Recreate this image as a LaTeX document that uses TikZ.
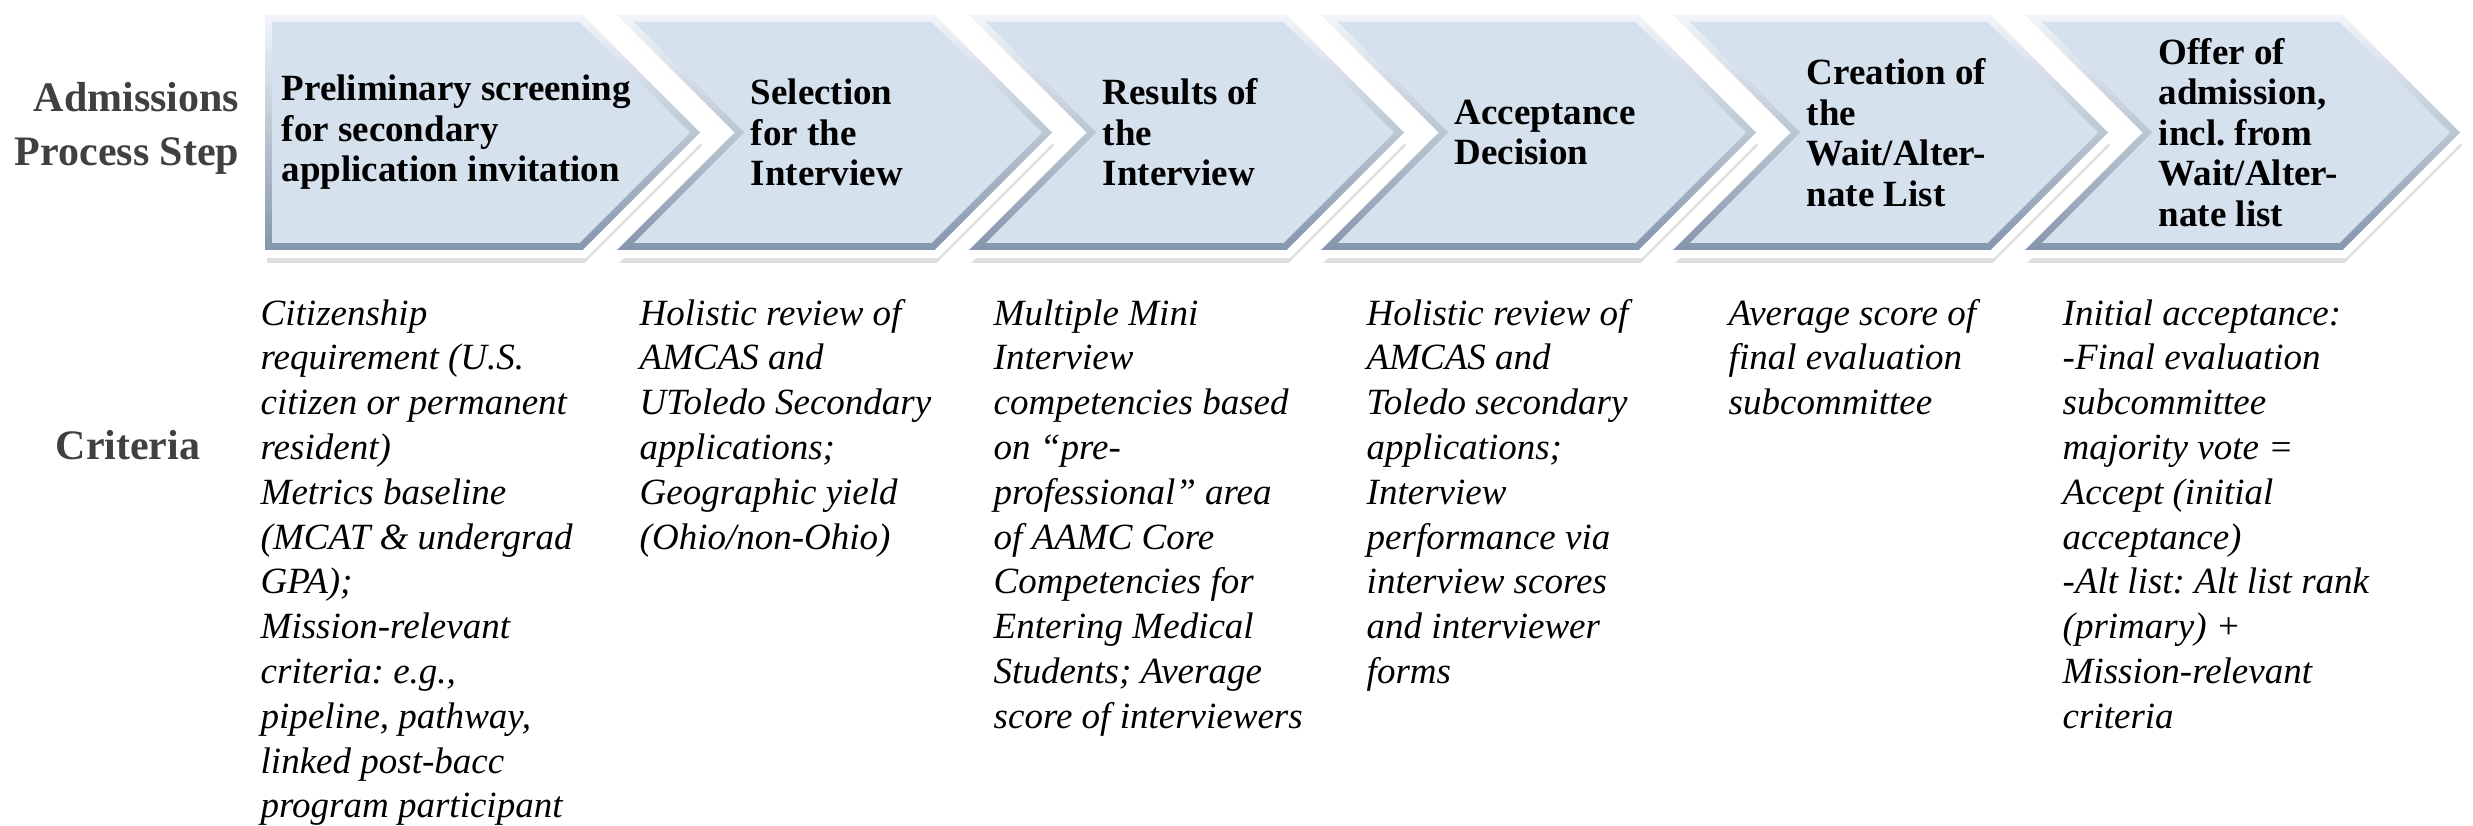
\documentclass[tikz,border=0pt]{standalone}
\usepackage{fontspec}
\setmainfont{Liberation Serif}
\usetikzlibrary{shadows}
\frenchspacing

\definecolor{stepface}{RGB}{214,225,238}
\definecolor{steptop}{RGB}{242,246,251}
\definecolor{stepbottom}{RGB}{132,150,172}
\definecolor{labelgray}{RGB}{64,64,64}

\tikzset{
  stepframe/.style={drop shadow={shadow xshift=0.2mm, shadow yshift=-1.3mm, opacity=0.18, fill=black!70},
    preaction={draw=white, line width=1.6mm, line join=miter},
    top color=steptop, bottom color=stepbottom},
  steplabel/.style={anchor=west, align=left, inner sep=0pt, font=\fontsize{10.53pt}{11.52pt}\selectfont\bfseries},
  crit/.style={anchor=north west, align=left, inner sep=0pt, font=\fontsize{10.53pt}{12.75pt}\selectfont\itshape},
  sidelabel/.style={align=right, inner sep=0pt, text=labelgray, font=\fontsize{11.95pt}{15.36pt}\selectfont\bfseries}
}

% first step: arrow without notch
\newcommand{\firststep}[1]{%
  \path[stepframe] (#1,8.10) -- (#1+3.175,8.10) -- (#1+4.35,6.925) -- (#1+3.175,5.75) -- (#1,5.75) -- cycle;
  \fill[stepface] (#1+0.07,8.03) -- (#1+3.146,8.03) -- (#1+4.251,6.925) -- (#1+3.146,5.82) -- (#1+0.07,5.82) -- cycle;}
% following steps: chevron with notch
\newcommand{\nextstep}[1]{%
  \path[stepframe] (#1,8.10) -- (#1+3.175,8.10) -- (#1+4.35,6.925) -- (#1+3.175,5.75) -- (#1,5.75) -- (#1+1.175,6.925) -- cycle;
  \fill[stepface] (#1+0.169,8.03) -- (#1+3.146,8.03) -- (#1+4.251,6.925) -- (#1+3.146,5.82) -- (#1+0.169,5.82) -- (#1+1.274,6.925) -- cycle;}

\begin{document}
\begin{tikzpicture}
\useasboundingbox (0,0) rectangle (24.73,8.25);

% process steps
\firststep{2.65}
\nextstep{6.17}
\nextstep{9.69}
\nextstep{13.21}
\nextstep{16.73}
\nextstep{20.25}

\node[sidelabel, anchor=east] (admstep) at (2.40,6.97) {Admissions\\Process Step};
\node[sidelabel] (criteria) at (1.28,3.80) {Criteria};

\node[steplabel] (step1) at (2.81,6.925) {Preliminary screening\\for secondary\\application invitation};
\node[steplabel] (step2) at (7.50,6.925) {Selection\\for the\\Interview};
\node[steplabel] (step3) at (11.02,6.925) {Results of\\the\\Interview};
\node[steplabel] (step4) at (14.54,6.925) {Acceptance\\Decision};
\node[steplabel] (step5) at (18.06,6.925) {Creation of\\the\\Wait/Alter-\\nate List};
\node[steplabel] (step6) at (21.58,6.925) {Offer of\\admission,\\incl. from\\Wait/Alter-\\nate list};

% criteria per step
\node[crit] (crit1) at (2.60,5.32) {\strut Citizenship\\requirement (U.S.\\citizen or permanent\\resident)\\Metrics baseline\\(MCAT \& undergrad\\GPA);\\Mission-relevant\\criteria: e.g.,\\pipeline, pathway,\\linked post-bacc\\program participant};
\node[crit] (crit2) at (6.39,5.32) {\strut Holistic review of\\AMCAS and\\UToledo Secondary\\applications;\\Geographic yield\\(Ohio/non-Ohio)};
\node[crit] (crit3) at (9.93,5.32) {\strut Multiple Mini\\Interview\\competencies based\\on “pre-\\professional” area\\of AAMC Core\\Competencies for\\Entering Medical\\Students; Average\\score of interviewers};
\node[crit] (crit4) at (13.66,5.32) {\strut Holistic review of\\AMCAS and\\Toledo secondary\\applications;\\Interview\\performance via\\interview scores\\and interviewer\\forms};
\node[crit] (crit5) at (17.28,5.32) {\strut Average score of\\final evaluation\\subcommittee};
\node[crit] (crit6) at (20.62,5.32) {\strut Initial acceptance:\\-Final evaluation\\subcommittee\\majority vote =\\Accept (initial\\acceptance)\\-Alt list: Alt list rank\\(primary) +\\Mission-relevant\\criteria};
\end{tikzpicture}
\end{document}
